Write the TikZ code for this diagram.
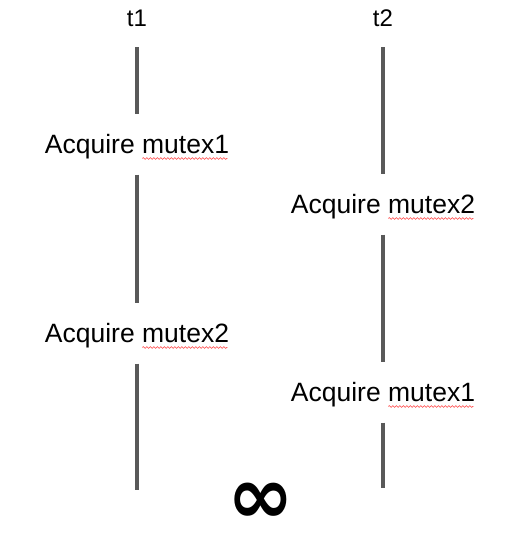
\documentclass[tikz,border=0pt]{standalone}
\usepackage{fontspec}
\setmainfont{Liberation Sans}
\newfontfamily\symbfont{DejaVu Sans}
\usetikzlibrary{decorations.pathmorphing}

\begin{document}
\begin{tikzpicture}[x=1pt,y=-1pt,
  lane/.style={line width=4pt, draw=black!65, shorten <=16pt, shorten >=20pt},
  op/.style={font=\fontsize{26.5}{30}\selectfont, inner sep=0pt, anchor=base},
  thr/.style={font=\fontsize{24}{28}\selectfont, inner sep=0pt, anchor=base},
  spell/.style={draw=red!75, line width=0.6pt, decorate,
    decoration={snake, amplitude=0.9pt, segment length=3.5pt}}]
\useasboundingbox (0,0) rectangle (530,535);

\node[thr] (t1) at (137,27) {t1};
\node[thr] (t2) at (383,27) {t2};

\node[op] (a1) at (137,153) {Acquire mutex1};
\node[op] (a2) at (137,342) {Acquire mutex2};
\node[op] (b2) at (383,213) {Acquire mutex2};
\node[op] (b1) at (383,401) {Acquire mutex1};

\coordinate (e1) at (137,490);
\coordinate (e2) at (383,488);

\node[font=\fontsize{80}{80}\selectfont\symbfont\bfseries, inner sep=0pt] (inf) at (261,503) {∞};

% thread t1
\draw[lane, shorten <=20pt] (t1.south) -- (a1.north);
\draw[lane] (a1.south) -- (a2.north);
\draw[lane, shorten >=0pt] (a2.south) -- (e1);

% thread t2
\draw[lane, shorten <=20pt] (t2.south) -- (b2.north);
\draw[lane] (b2.south) -- (b1.north);
\draw[lane, shorten >=0pt] (b1.south) -- (e2);

% spell check marks
\foreach \n in {a1,a2,b2,b1}
  \draw[spell] ([xshift=-87pt,yshift=-5.5pt]\n.base east) -- ([xshift=-2pt,yshift=-5.5pt]\n.base east);
\end{tikzpicture}
\end{document}
